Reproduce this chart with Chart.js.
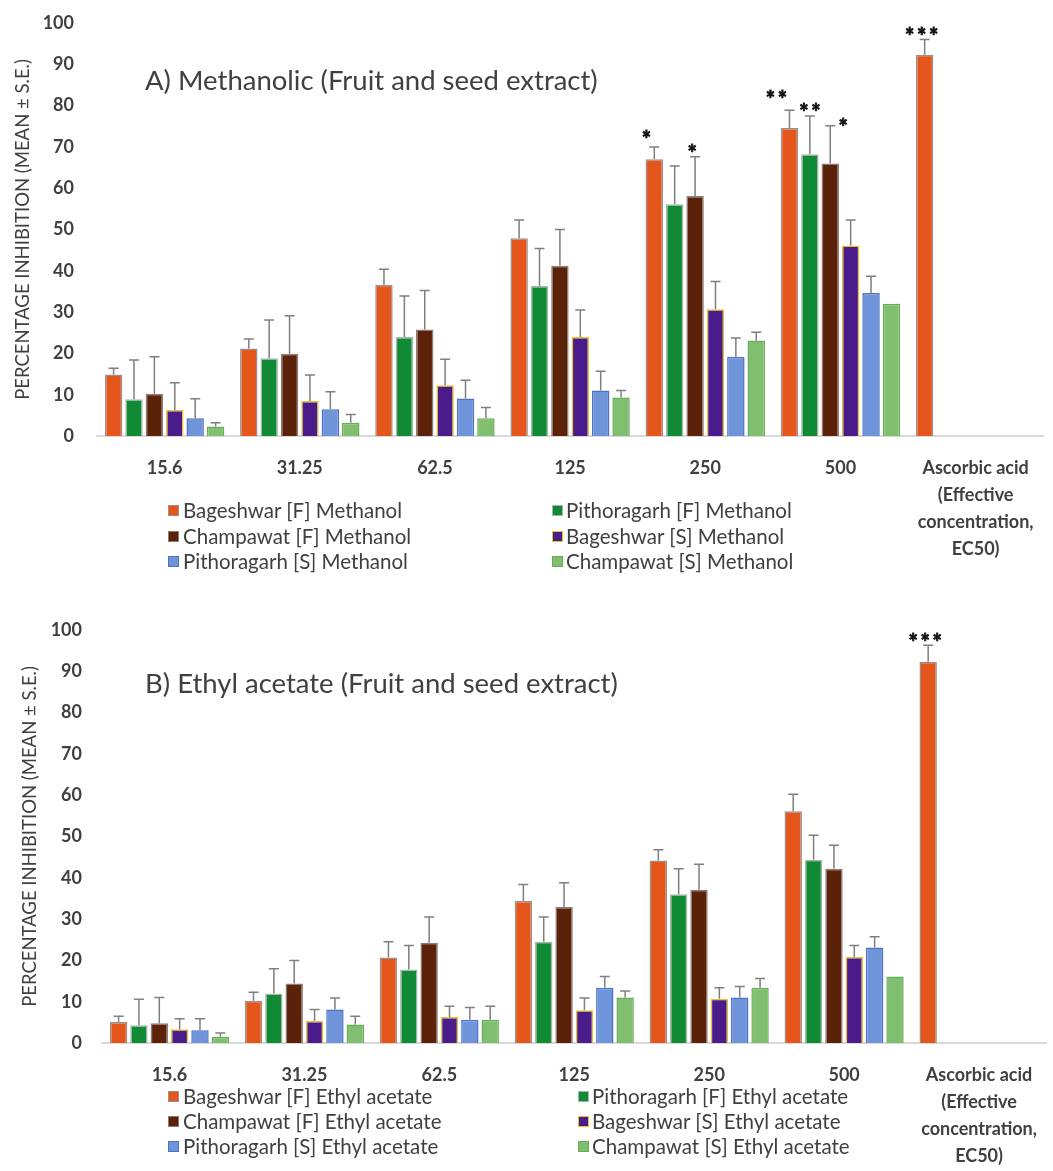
<!DOCTYPE html>
<html><head><meta charset="utf-8">
<script src="https://cdn.jsdelivr.net/npm/chart.js@4.4.1/dist/chart.umd.min.js"></script>
<style>
html,body{margin:0;padding:0;background:#fff;overflow:hidden;width:1053px;height:1171px;position:relative;}
.panel{position:absolute;left:0;}
.panel canvas{display:block;}
.title{position:absolute;font-family:Lato,sans-serif;font-size:27.5px;line-height:32px;color:#404040;white-space:nowrap;}
.li{position:absolute;white-space:nowrap;font-family:Lato,sans-serif;font-size:20.5px;line-height:24px;color:#404040;}
.sw{position:absolute;width:9px;height:9px;border:1px solid;}
</style></head>
<body>
<div class="panel" id="pA" style="top:-22px;"></div>
<div class="panel" id="pB" style="top:585px;"></div>
<div class="title" style="left:145px;top:64px;">A) Methanolic (Fruit and seed extract)</div>
<div class="title" style="left:145px;top:667px;">B) Ethyl acetate (Fruit and seed extract)</div>
<div id="legA"></div><div id="legB"></div>
<script>
// ---------- DATA ----------
const categories = ['15.6', '31.25', '62.5', '125', '250', '500', ['Ascorbic acid', '(Effective', 'concentration,', 'EC50)']];
const yTicks = [0, 10, 20, 30, 40, 50, 60, 70, 80, 90, 100];

// A) Methanolic
const namesA = ['Bageshwar [F] Methanol', 'Pithoragarh [F] Methanol', 'Champawat [F] Methanol',
                'Bageshwar [S] Methanol', 'Pithoragarh [S] Methanol', 'Champawat [S] Methanol'];
const bageshwarF_A   = [14.9, 21.2, 36.6, 47.9, 67.0, 74.6, 92.3];
const pithoragarhF_A = [8.9, 18.8, 24.0, 36.3, 56.1, 68.2, null];
const champawatF_A   = [10.2, 19.9, 25.8, 41.2, 58.1, 66.0, null];
const bageshwarS_A   = [6.3, 8.5, 12.3, 24.0, 30.7, 46.1, null];
const pithoragarhS_A = [4.3, 6.5, 9.1, 11.0, 19.2, 34.6, null];
const champawatS_A   = [2.3, 3.2, 4.3, 9.3, 23.1, 32.0, null];
const seBageshwarF_A   = [1.5, 2.3, 3.8, 4.4, 3.0, 4.3, 3.7];
const sePithoragarhF_A = [9.5, 9.3, 9.9, 9.1, 9.3, 9.3, null];
const seChampawatF_A   = [9.0, 9.2, 9.4, 8.8, 9.5, 9.1, null];
const seBageshwarS_A   = [6.6, 6.3, 6.3, 6.5, 6.7, 6.2, null];
const sePithoragarhS_A = [4.7, 4.2, 4.4, 4.7, 4.5, 4.1, null];
const seChampawatS_A   = [0.9, 2.0, 2.6, 1.7, 2.0, null, null];
const starsBageshwarF_A   = [null, null, null, null, '*', '**', '***'];
const starsPithoragarhF_A = [null, null, null, null, null, '**', null];
const starsChampawatF_A   = [null, null, null, null, '*', '*', null];

// B) Ethyl acetate
const namesB = ['Bageshwar [F] Ethyl acetate', 'Pithoragarh [F] Ethyl acetate', 'Champawat [F] Ethyl acetate',
                'Bageshwar [S] Ethyl acetate', 'Pithoragarh [S] Ethyl acetate', 'Champawat [S] Ethyl acetate'];
const bageshwarF_B   = [5.1, 10.2, 20.7, 34.4, 44.2, 56.1, 92.3];
const pithoragarhF_B = [4.3, 12.0, 17.8, 24.5, 36.0, 44.4, null];
const champawatF_B   = [4.8, 14.4, 24.3, 32.9, 37.1, 42.2, null];
const bageshwarS_B   = [3.3, 5.3, 6.3, 7.9, 10.7, 20.8, null];
const pithoragarhS_B = [3.1, 8.1, 5.6, 13.4, 11.0, 23.1, null];
const champawatS_B   = [1.5, 4.5, 5.6, 11.0, 13.4, 16.1, null];
const seBageshwarF_B   = [1.4, 2.1, 3.8, 4.0, 2.6, 4.1, 4.0];
const sePithoragarhF_B = [6.3, 6.0, 5.8, 6.0, 6.2, 5.9, null];
const seChampawatF_B   = [6.2, 5.6, 6.2, 5.9, 6.2, 5.7, null];
const seBageshwarS_B   = [2.6, 2.8, 2.6, 3.0, 2.7, 2.8, null];
const sePithoragarhS_B = [2.8, 2.8, 3.0, 2.7, 2.7, 2.6, null];
const seChampawatS_B   = [0.9, 2.0, 3.3, 1.6, 2.2, null, null];
const starsBageshwarF_B = [null, null, null, null, null, null, '***'];

// ---------- STYLE ----------
const fills   = ['#E5561D', '#118A36', '#5B2109', '#4A1B8A', '#7094DA', '#80BE70'];
const borders = ['#9A8F8A', '#A8B8A8', '#8C7C74', '#E8C22A', '#4A72C6', '#68AE58'];
const starNudgeA = {'0:4': [-8, -12], '2:4': [-3, -8], '0:5': [-13, -15], '1:5': [0, -8], '2:5': [13, -3], '0:6': [-3, -8]};
const starNudgeB = {'0:6': [-3, -7]};
const FONT = 'Lato, sans-serif';
const TXT = '#404040';

const errPlugin = {
  id: 'errbars',
  afterDatasetsDraw(chart) {
    const ctx = chart.ctx, ys = chart.scales.y;
    const nudge = chart.options.plugins.errbars.nudge || {};
    chart.data.datasets.forEach((ds, i) => {
      const meta = chart.getDatasetMeta(i);
      meta.data.forEach((bar, j) => {
        const v = ds.data[j];
        if (v == null) return;
        const e = ds.errors ? ds.errors[j] : null;
        let capY = ys.getPixelForValue(v);
        ctx.save();
        if (e != null) {
          capY = ys.getPixelForValue(v + e);
          ctx.strokeStyle = '#7F7F7F';
          ctx.lineWidth = 1.5;
          ctx.beginPath();
          ctx.moveTo(bar.x, ys.getPixelForValue(v));
          ctx.lineTo(bar.x, capY);
          ctx.moveTo(bar.x - 5, capY);
          ctx.lineTo(bar.x + 5, capY);
          ctx.stroke();
        }
        const s = ds.stars ? ds.stars[j] : null;
        if (s) {
          const nd = nudge[i + ':' + j] || [0, -8];
          ctx.fillStyle = '#111';
          ctx.strokeStyle = '#111';
          ctx.lineWidth = 0.8;
          ctx.font = 'bold 22px ' + FONT;
          ctx.textAlign = 'center';
          ctx.textBaseline = 'alphabetic';
          const n = s.length, gap = 12;
          for (let k = 0; k < n; k++) {
            const sx = bar.x + nd[0] + (k - (n - 1) / 2) * gap;
            ctx.fillText('*', sx, capY + nd[1] + 12);
            ctx.strokeText('*', sx, capY + nd[1] + 12);
          }
        }
        ctx.restore();
      });
    });
  }
};

function makeChart(host, names, series, errs, stars, nudge, geo) {
  host.innerHTML = '';
  const cv = document.createElement('canvas');
  cv.width = geo.w; cv.height = geo.h;
  host.appendChild(cv);
  const datasets = series.map((d, i) => ({
    label: names[i], data: d, errors: errs[i], stars: stars[i],
    backgroundColor: fills[i], borderColor: borders[i], borderWidth: 1.5,
    categoryPercentage: 0.905, barPercentage: 0.855
  }));
  return new Chart(cv, {
    type: 'bar',
    data: { labels: categories, datasets },
    plugins: [errPlugin],
    options: {
      responsive: false, animation: false, devicePixelRatio: 1,
      layout: { padding: { top: geo.top, right: geo.right, left: 0, bottom: 0 } },
      plugins: { legend: { display: false }, tooltip: { enabled: false }, errbars: { nudge } },
      scales: {
        x: {
          grid: { display: false, drawTicks: false },
          border: { display: true, color: '#D9D9D9', width: 2 },
          ticks: { color: TXT, font: { family: FONT, size: 18, weight: 'bold', lineHeight: 1.5 }, padding: 19, maxRotation: 0, autoSkip: false },
          afterFit: (s) => { s.height = geo.xh; }
        },
        y: {
          min: 0, max: 100,
          afterBuildTicks: (s) => { s.ticks = yTicks.map(v => ({ value: v })); },
          grid: { display: false, drawTicks: false },
          border: { display: false },
          ticks: { color: TXT, font: { family: FONT, size: 18, weight: 'bold' }, padding: geo.tpad },
          title: { display: true, text: 'PERCENTAGE INHIBITION (MEAN ± S.E.)', color: TXT,
                   font: { family: FONT, size: 18.5 }, padding: { top: geo.titlePad, bottom: 0 } },
          afterFit: (s) => { s.width = geo.yw; }
        }
      }
    }
  });
}

// build, then re-build so value 100 and value 0 land on the wanted canvas pixels
function build(hostId, names, series, errs, stars, nudge, geo) {
  const host = document.getElementById(hostId);
  let ch = null;
  for (let it = 0; it < 3; it++) {
    if (ch) ch.destroy();
    ch = makeChart(host, names, series, errs, stars, nudge, geo);
    const p100 = ch.scales.y.getPixelForValue(100);
    const p0 = ch.scales.y.getPixelForValue(0);
    const dT = p100 - geo.areaTop, dB = p0 - geo.areaBottom;
    if (Math.abs(dT) < 0.5 && Math.abs(dB) < 0.5) break;
    geo.top -= dT;
    geo.xh += dB;
  }
  return ch;
}

// top panel canvas starts 22px above the page, so its plot area 45..458 maps to page 23..436
build('pA', namesA,
  [bageshwarF_A, pithoragarhF_A, champawatF_A, bageshwarS_A, pithoragarhS_A, champawatS_A],
  [seBageshwarF_A, sePithoragarhF_A, seChampawatF_A, seBageshwarS_A, sePithoragarhS_A, seChampawatS_A],
  [starsBageshwarF_A, starsPithoragarhF_A, starsChampawatF_A, null, null, null],
  starNudgeA,
  { w: 1053, h: 607, top: 45, right: 7, xh: 149, yw: 97, tpad: 23, titlePad: 12, areaTop: 45, areaBottom: 458 });

build('pB', namesB,
  [bageshwarF_B, pithoragarhF_B, champawatF_B, bageshwarS_B, pithoragarhS_B, champawatS_B],
  [seBageshwarF_B, sePithoragarhF_B, seChampawatF_B, seBageshwarS_B, sePithoragarhS_B, seChampawatS_B],
  [starsBageshwarF_B, null, null, null, null, null],
  starNudgeB,
  { w: 1056, h: 586, top: 45, right: 1, xh: 128, yw: 102, tpad: 20, titlePad: 19, areaTop: 45, areaBottom: 458 });

// ---------- HTML legends ----------
function legend(hostId, names, cols, rowsY) {
  const host = document.getElementById(hostId);
  names.forEach((n, i) => {
    const c = cols[i % 2], y = rowsY[Math.floor(i / 2)];
    const sw = document.createElement('div');
    sw.className = 'sw';
    sw.style.left = c[0] + 'px'; sw.style.top = (y - 5) + 'px';
    sw.style.background = fills[i]; sw.style.borderColor = borders[i];
    host.appendChild(sw);
    const t = document.createElement('div');
    t.className = 'li'; t.textContent = n;
    t.style.left = c[1] + 'px'; t.style.top = (y - 12) + 'px';
    host.appendChild(t);
  });
}
legend('legA', namesA, [[168, 183], [552, 566]], [510, 536, 561]);
legend('legB', namesB, [[168, 183], [578, 592]], [1096, 1121, 1146]);
</script>
</body></html>
